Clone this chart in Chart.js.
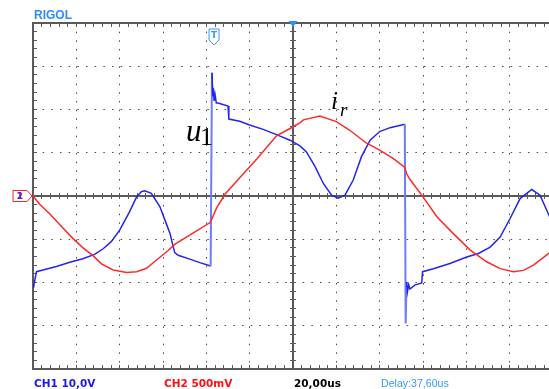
<!DOCTYPE html>
<html><head><meta charset="utf-8">
<script src="https://cdn.jsdelivr.net/npm/chart.js@4.4.0/dist/chart.umd.min.js"></script>
<style>
html,body{margin:0;padding:0;background:#fff;overflow:hidden;width:549px;height:389px;}
#wrap{position:absolute;left:0;top:0;width:562px;height:389px;}
.t{position:absolute;white-space:nowrap;line-height:1;}
.ft{font-family:"DejaVu Sans",sans-serif;font-weight:bold;font-size:10.5px;top:377.7px;}
.lbl{font-family:"Liberation Serif","Times New Roman",serif;color:#000;}
</style></head><body>
<div id="wrap"><canvas id="c"></canvas></div>
<div class="t" style="left:34px;top:9px;font-family:'Liberation Sans',Arial,sans-serif;font-weight:bold;font-size:12px;color:#2a8cff;">RIGOL</div>
<div class="t ft" style="left:34px;color:#1a1aee;">CH1 10,0V</div>
<div class="t ft" style="left:164px;color:#ff1010;">CH2 500mV</div>
<div class="t ft" style="left:294px;color:#000;">20,00us</div>
<div class="t" style="left:381px;top:377.6px;font-family:'Liberation Sans',Arial,sans-serif;font-size:10.6px;color:#3399ff;">Delay:37,60us</div>
<div class="t lbl" style="left:186px;top:115px;font-size:31px;font-style:italic;">u</div>
<div class="t lbl" style="left:200px;top:124px;font-size:26px;">1</div>
<div class="t lbl" style="left:331px;top:88px;font-size:25px;font-style:italic;">i</div>
<div class="t lbl" style="left:340px;top:100px;font-size:19px;font-style:italic;">r</div>
<script>
// Time base: microseconds relative to screen centre (20 us/div, 12 div)
const timeTicksUs = [-120,-100,-80,-60,-40,-20,0,20,40,60,80,100,120];
const voltTicks = [-40,-30,-20,-10,0,10,20,30,40];   // CH1 10 V/div
const triggerUs = -37.6;                              // Delay 37,60us

// CH2: i_r (mV, 500 mV/div)
const irTimeUs = [-120,-116.9,-112.3,-106.2,-101.6,-96.9,-92.3,-88.4,-83,-76.8,-72.2,-67.6,-63,-57.6,-54.6,-46,-38.4,-37.6,-35.2,-31.4,-24.6,-16.8,-7.6,-1.4,3.2,4.8,12.4,20,26.2,34,40,46.2,51.6,52.4,54,60,66.4,74,81.8,89.4,95.6,101.8,106.4,111,118.2,120];
const irMilliVolts = [0,-95,-205,-370,-490,-600,-690,-785,-855,-885,-875,-835,-740,-630,-560,-425,-310,-275,-135,20,210,425,695,780,845,880,925,860,760,610,530,435,330,260,190,-10,-240,-435,-625,-760,-840,-875,-860,-800,-660,-625];

// CH1: u1 (V, 10 V/div)
const u1TimeUs = [-120,-119.6,-118.4,-115.4,-109.2,-103,-97,-91.6,-87.6,-83.8,-80,-75.4,-72.2,-70,-68.4,-65.4,-61.4,-58.4,-56.8,-54.6,-53,-47.6,-43,-38,-37.4,-37,-36.8,-36.4,-36,-35.4,-34.6,-30,-29.6,-24.6,-20,-13.8,-7.6,-1.4,3.2,6.2,10.2,14,17.8,20.8,24,27.8,31.6,35.6,40,44.8,51.6,52,52.4,52.8,53.4,54,56.2,59.4,59.8,64.8,72.4,80.2,85.6,91,95.6,100.2,104.8,110.2,114,118.2,120];
const u1Volts = [-21,-20.6,-17.5,-17.1,-16.3,-15.3,-14.5,-13.5,-12.2,-10.5,-7.9,-3.6,-0.2,1.0,1.2,0.6,-2.5,-6.5,-8.6,-13.1,-13.7,-14.6,-15.4,-16.2,28.5,23,25,22,23.5,21.5,21.5,20.8,17.8,17.3,16.4,15.4,14.2,12.9,11.6,10.2,6.8,2.9,0.2,-0.5,0.2,3.7,9.1,12.9,14.9,15.8,16.6,-29.5,-19.9,-22.2,-20.5,-21.5,-20.6,-20.1,-17.5,-16.8,-15.6,-14.1,-13.3,-11.8,-9.5,-5.2,-0.6,1.5,0.2,-4.5,-7];

const GRID = '#4a4a4a', FRAME = '#5a5a5a';
const setTicks = list => axis => { axis.ticks = list.map(v => ({value: v})); };
const minorX = [], minorY = [];
for (let i = 0; i <= 60; i++) minorX.push(-120 + i * 4);
for (let i = 0; i <= 40; i++) minorY.push(-40 + i * 2);

const hidden = {display: false};
const markers = {
  id: 'markers',
  afterDraw(chart) {
    const {ctx, chartArea, scales} = chart;
    const xs = scales.x, ys = scales.y;
    ctx.save();
    const cx = xs.getPixelForValue(0);
    ctx.fillStyle = '#2f8fff';
    ctx.beginPath();
    ctx.moveTo(cx - 4.5, chartArea.top - 2);
    ctx.lineTo(cx + 4.5, chartArea.top - 2);
    ctx.lineTo(cx, chartArea.top + 4);
    ctx.closePath(); ctx.fill();
    const tx = xs.getPixelForValue(triggerUs) + 2.5;
    const ty = chartArea.top + 6;
    ctx.strokeStyle = '#3c96ff'; ctx.lineWidth = 1;
    ctx.beginPath();
    ctx.moveTo(tx - 5, ty); ctx.lineTo(tx + 5, ty); ctx.lineTo(tx + 5, ty + 11);
    ctx.lineTo(tx, ty + 16); ctx.lineTo(tx - 5, ty + 11); ctx.closePath(); ctx.stroke();
    ctx.fillStyle = '#3c96ff';
    ctx.font = 'bold 9px "DejaVu Sans"'; ctx.textAlign = 'center'; ctx.textBaseline = 'middle';
    ctx.fillText('T', tx, ty + 6.5);
    const gy = ys.getPixelForValue(0);
    const lx = chartArea.left;
    ctx.strokeStyle = '#ff2020';
    ctx.beginPath();
    ctx.moveTo(lx - 20, gy - 5.5); ctx.lineTo(lx - 6, gy - 5.5); ctx.lineTo(lx - 1, gy);
    ctx.lineTo(lx - 6, gy + 5.5); ctx.lineTo(lx - 20, gy + 5.5); ctx.closePath(); ctx.stroke();
    ctx.fillStyle = '#ff2020'; ctx.font = 'bold 9px "DejaVu Sans"';
    ctx.fillText('2', lx - 13, gy + 0.5);
    ctx.fillStyle = '#3030ee';
    ctx.fillText('1', lx - 13, gy + 0.5);
    ctx.restore();
  }
};

new Chart(document.getElementById('c'), {
  type: 'line',
  data: {
    datasets: [
      {label: 'i_r (CH2)', data: irTimeUs.map((t, i) => ({x: t, y: irMilliVolts[i]})),
       xAxisID: 'x', yAxisID: 'yI', borderColor: '#ff2a2a', borderWidth: 1.5, pointRadius: 0, tension: 0, fill: false},
      {label: 'u1 (CH1)', data: u1TimeUs.map((t, i) => ({x: t, y: u1Volts[i]})),
       xAxisID: 'x', yAxisID: 'y', borderColor: '#2424ee', borderWidth: 1.5, pointRadius: 0, tension: 0, fill: false,
       segment: {
         borderColor: c => (Math.abs(c.p1.parsed.y - c.p0.parsed.y) > 8 && Math.abs(c.p1.parsed.x - c.p0.parsed.x) < 1) ? '#6c7cff' : undefined,
         borderWidth: c => (Math.abs(c.p1.parsed.y - c.p0.parsed.y) > 8 && Math.abs(c.p1.parsed.x - c.p0.parsed.x) < 1) ? 2 : undefined
       }}
    ]
  },
  options: {
    responsive: true, maintainAspectRatio: false, animation: false,
    layout: {padding: {left: 33, top: 23, right: 9, bottom: 20}},
    plugins: {legend: hidden, tooltip: {enabled: false}, title: hidden},
    scales: {
      x: {type: 'linear', position: 'bottom', min: -120, max: 120, afterBuildTicks: setTicks(timeTicksUs),
          ticks: {display: false}, grid: {color: GRID, lineWidth: 1, drawTicks: false},
          border: {display: true, color: FRAME, width: 2, dash: [1.5, 7.167]}},
      y: {type: 'linear', position: 'left', min: -40, max: 40, afterBuildTicks: setTicks(voltTicks),
          ticks: {display: false}, grid: {color: GRID, lineWidth: 1, drawTicks: false},
          border: {display: true, color: FRAME, width: 2, dash: [1.5, 7.167]}},
      yI: {type: 'linear', display: false, min: -2000, max: 2000},
      xTop: {type: 'linear', position: 'top', min: -120, max: 120, ticks: {display: false},
          grid: {display: false, drawTicks: false}, border: {display: true, color: FRAME, width: 2}},
      xC: {type: 'linear', position: 'bottom', min: -120, max: 120, afterBuildTicks: setTicks([0]),
          ticks: {display: false}, grid: {color: FRAME, lineWidth: 2, drawTicks: false}, border: {display: false}},
      yC: {type: 'linear', position: 'left', min: -40, max: 40, afterBuildTicks: setTicks([0]),
          ticks: {display: false}, grid: {color: FRAME, lineWidth: 2, drawTicks: false}, border: {display: false}},
      xM: {type: 'linear', position: 'bottom', min: -120, max: 120, afterBuildTicks: setTicks(minorX),
          ticks: {display: false}, grid: {color: FRAME, lineWidth: 1, drawTicks: false},
          border: {display: false, dash: [4, 166, 6, 166, 4, 2000]}},
      yM: {type: 'linear', position: 'left', min: -40, max: 40, afterBuildTicks: setTicks(minorY),
          ticks: {display: false}, grid: {color: FRAME, lineWidth: 1, drawTicks: false},
          border: {display: false, dash: [4, 253, 6, 253, 4, 2000]}}
    }
  },
  plugins: [markers]
});
</script>
</body></html>
